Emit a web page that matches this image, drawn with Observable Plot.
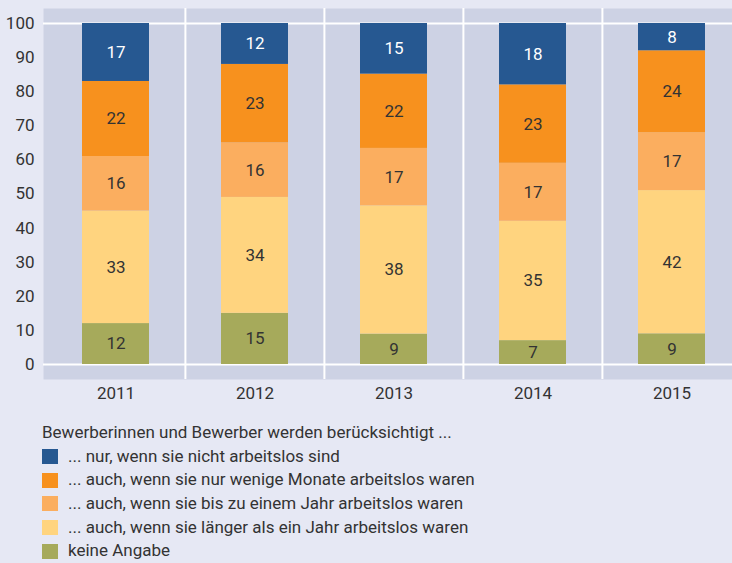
<!DOCTYPE html>
<html><head><meta charset="utf-8">
<script src="https://cdn.jsdelivr.net/npm/d3@7"></script>
<script src="https://cdn.jsdelivr.net/npm/@observablehq/plot@0.6"></script>
<style>
body{margin:0;background:#e6e8f4;font-family:Roboto,"Noto Sans",sans-serif;color:#333;}
#wrap{position:relative;width:732px;height:563px;overflow:hidden;}
#chart{position:absolute;left:0;top:0;}
#legend{position:absolute;left:42px;top:421px;font-size:17px;line-height:23.7px;}
.row{display:flex;align-items:center;height:23.7px;}
.sw{width:16px;height:15px;margin-right:10px;flex:none;}
</style></head>
<body><div id="wrap"><div id="chart"></div><div id="legend"></div></div>
<script>
const years = ["2011","2012","2013","2014","2015"];
const legendTitle = "Bewerberinnen und Bewerber werden berücksichtigt ...";
// series from bottom to top
const categories = [
  "keine Angabe",
  "... auch, wenn sie länger als ein Jahr arbeitslos waren",
  "... auch, wenn sie bis zu einem Jahr arbeitslos waren",
  "... auch, wenn sie nur wenige Monate arbeitslos waren",
  "... nur, wenn sie nicht arbeitslos sind"
];
const colors = ["#a6aa5b","#ffd47f","#fbae5f","#f7911e","#265891"];
const keineAngabe   = [12, 15, 9, 7, 9];
const laengerJahr   = [33, 34, 38, 35, 42];
const bisJahr       = [16, 16, 17, 17, 17];
const wenigeMonate  = [22, 23, 22, 23, 24];
const nichtArbeitslos = [17, 12, 15, 18, 8];
const series = [keineAngabe, laengerJahr, bisJahr, wenigeMonate, nichtArbeitslos];
const yTicks = [0,10,20,30,40,50,60,70,80,90,100];
const gridValues = [0, 100];

const data = [];
years.forEach((y, i) => categories.forEach((c, k) => data.push({year: y, cat: c, value: series[k][i]})));

const W = 732, H = 403;
const xRange = [45, 741];
const bw = (xRange[1] - xRange[0]) / years.length;

const plot = Plot.plot({
  width: W, height: H,
  marginLeft: 43, marginRight: 0, marginTop: 8, marginBottom: 24,
  style: {background: "transparent", fontFamily: "Roboto, sans-serif", fontSize: "17px", color: "#333"},
  x: {type: "band", domain: years, range: xRange, padding: 0, label: null, tickSize: 0, tickPadding: 6},
  y: {domain: [-0.044, 1.044], label: null, tickSize: 0, tickPadding: 9},
  color: {domain: categories, range: colors},
  marks: [
    Plot.frame({fill: "#cdd2e4", stroke: null}),
    Plot.ruleY(gridValues, {y: d => d / 100, stroke: "white", strokeWidth: 2}),
    Plot.ruleX(years.slice(1), {x: d => d, dx: -bw / 2, stroke: "white", strokeWidth: 2}),
    Plot.barY(data, Plot.stackY({offset: "normalize"}, {x: "year", y: "value", fill: "cat", insetLeft: 36, insetRight: 36})),
    Plot.text(data, Plot.stackY({offset: "normalize"}, {x: "year", y: "value", z: "cat", text: d => String(d.value),
      fill: d => d.cat === categories[4] ? "white" : "#333", fontSize: 17})),
    Plot.axisY(yTicks.map(v => v / 100), {tickSize: 0, tickPadding: 9, fontSize: 17, fill: "#333", tickFormat: d => String(Math.round(d * 100))}),
    Plot.axisX({tickSize: 0, tickPadding: 7, fontSize: 17, fill: "#333"})
  ]
});
document.getElementById("chart").append(plot);

const lg = document.getElementById("legend");
const t = document.createElement("div"); t.className = "row"; t.textContent = legendTitle; lg.append(t);
[...categories].reverse().forEach((c) => {
  const r = document.createElement("div"); r.className = "row";
  const s = document.createElement("span"); s.className = "sw"; s.style.background = colors[categories.indexOf(c)];
  const l = document.createElement("span"); l.textContent = c;
  r.append(s, l); lg.append(r);
});
</script></body></html>
